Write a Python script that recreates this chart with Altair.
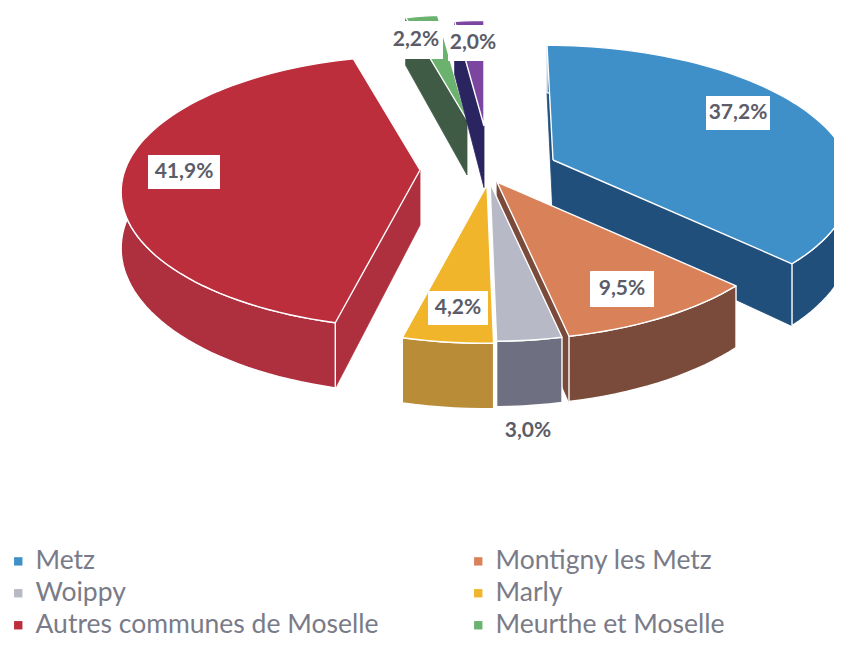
import math
import altair as alt
import pandas as pd

# ---- chart values ----
categories = ["Metz", "Montigny les Metz", "Woippy", "Marly",
              "Autres communes de Moselle", "Meurthe et Moselle", "Autres départements"]
shares = [37.2, 9.5, 3.0, 4.2, 41.9, 2.2, 2.0]
share_labels = ["37,2%", "9,5%", "3,0%", "4,2%", "41,9%", "2,2%", "2,0%"]
top_colors = ["#3f90c9", "#d9825a", "#b7bac6", "#f0b52a", "#bd2e3c", "#6ab26e", "#7b45a0"]
side_colors = ["#214f7c", "#7a4b3a", "#6e6f80", "#b98d38", "#ae2f3e", "#3f5b46", "#2a2560"]
legend_names = categories[:6]

# ---- layout of the 3D pie (reference pixel space) ----
RX, RY, K, DEPTH = 295.0, 133.0, 0.16, 55.0
apex_x = [553, 497, 490, 487, 420, 467, 484]
apex_y = [160, 182, 183, 185, 170, 120, 126]
radius_scale = [1, 1, 1, 1, 1, 0.92, 0.92]
depth_scale = [1, 1, 1, 1, 1, 1, 1.12]
lean = [-6, 0, 0, 0, 0, 0, 0]
paint_order = [5, 6, 0, 4, 1, 3, 2]
show_start_face = [True, False, False, False, True, True, True]
show_end_face = [True, True, False, False, False, False, False]
show_wall = [True, True, True, True, True, False, False]
label_x = [738, 622, 528, 458, 184, 416, 473]
label_y = [113, 289, 431, 308, 172, 40, 43]
box_half_w = [32, 32, 0, 30, 36, 27, 25]
box_half_h = [17, 18, 0, 17, 17, 19, 18]

W, H = 826, 632
xs = alt.Scale(domain=[8, 8 + W], range=[0, W], nice=False, zero=False)
ys = alt.Scale(domain=[8, 8 + H], range=[0, H], nice=False, zero=False)


def persp(theta):
    return 1 / (1 + K * math.cos(theta))


def rim(i, theta, down=False):
    p = persp(theta)
    s = radius_scale[i]
    x = apex_x[i] + s * RX * math.sin(theta) * p + lean[i] * max(math.cos(theta), 0)
    y = apex_y[i] - s * RY * math.cos(theta) * p
    if down:
        y += DEPTH * depth_scale[i] * p
    return x, y


def apex(i, down=False):
    return apex_x[i], apex_y[i] + (DEPTH * depth_scale[i] if down else 0)


def arc_points(i, a0, a1, down=False):
    n = max(2, int(abs(a1 - a0) / math.radians(2)))
    return [rim(i, a0 + (a1 - a0) * j / n, down) for j in range(n + 1)]


def polygon(points, fill, stroke="white", sw=1.4):
    pts = list(points) + [points[0]]
    df = pd.DataFrame({"x": [p[0] for p in pts], "y": [p[1] for p in pts], "o": range(len(pts))})
    return alt.Chart(df).mark_line(
        fill=fill, stroke=stroke, strokeWidth=sw, clip=True, interpolate="linear", strokeJoin="round"
    ).encode(
        x=alt.X("x:Q", scale=xs, axis=None),
        y=alt.Y("y:Q", scale=ys, axis=None),
        order="o:Q",
    )


starts, total = [], 0.0
for v in shares:
    starts.append(total)
    total += v
angle0 = [s / total * 2 * math.pi for s in starts]
angle1 = [(s + v) / total * 2 * math.pi for s, v in zip(starts, shares)]

# legend keys sit under the red slice, only the legend shows them
leg_df = pd.DataFrame({"name": legend_names, "x": [300] * 6, "y": [200] * 6})
legend_layer = alt.Chart(leg_df).mark_square(size=70, opacity=1).encode(
    x=alt.X("x:Q", scale=xs, axis=None),
    y=alt.Y("y:Q", scale=ys, axis=None),
    color=alt.Color(
        "name:N",
        scale=alt.Scale(domain=legend_names, range=top_colors[:6]),
        sort=legend_names,
        legend=alt.Legend(
            title=None, orient="none", legendX=-3, legendY=540, columns=2, direction="horizontal",
            columnPadding=86, rowPadding=5, symbolType="square", symbolSize=70, symbolOffset=0,
            labelFont="Lato", labelFontSize=26.5, labelColor="#7a7b88", labelLimit=400,
            labelOffset=4, values=legend_names,
        ),
    ),
)

layers = [legend_layer]
for i in paint_order:
    a0, a1 = angle0[i], angle1[i]
    if show_start_face[i]:
        layers.append(polygon([apex(i), rim(i, a0), rim(i, a0, True), apex(i, True)],
                              side_colors[i], side_colors[i], 0.8))
    if show_end_face[i]:
        layers.append(polygon([apex(i), rim(i, a1), rim(i, a1, True), apex(i, True)],
                              side_colors[i], side_colors[i], 0.8))
    if show_wall[i]:
        layers.append(polygon(arc_points(i, a0, a1) + arc_points(i, a1, a0, True), side_colors[i]))
    layers.append(polygon([apex(i)] + arc_points(i, a0, a1), top_colors[i]))

labels = pd.DataFrame({"t": share_labels, "x": label_x, "y": label_y,
                       "x0": [a - b for a, b in zip(label_x, box_half_w)],
                       "x1": [a + b for a, b in zip(label_x, box_half_w)],
                       "y0": [a - b for a, b in zip(label_y, box_half_h)],
                       "y1": [a + b for a, b in zip(label_y, box_half_h)]})
boxes = alt.Chart(labels[labels["x0"] != labels["x1"]]).mark_rect(fill="white").encode(
    x=alt.X("x0:Q", scale=xs, axis=None), x2="x1:Q",
    y=alt.Y("y0:Q", scale=ys, axis=None), y2="y1:Q")
texts = alt.Chart(labels).mark_text(
    font="Lato", fontWeight="bold", fontSize=21, color="#5b5c68", align="center", baseline="middle"
).encode(x=alt.X("x:Q", scale=xs, axis=None), y=alt.Y("y:Q", scale=ys, axis=None), text="t:N")

chart = alt.layer(*layers, boxes, texts).properties(
    width=W, height=H, padding=0, background="white",
    autosize=alt.AutoSizeParams(type="fit", contains="padding"),
).configure_view(stroke=None)

chart.save("out.html", embed_options={"renderer": "svg", "actions": False})
